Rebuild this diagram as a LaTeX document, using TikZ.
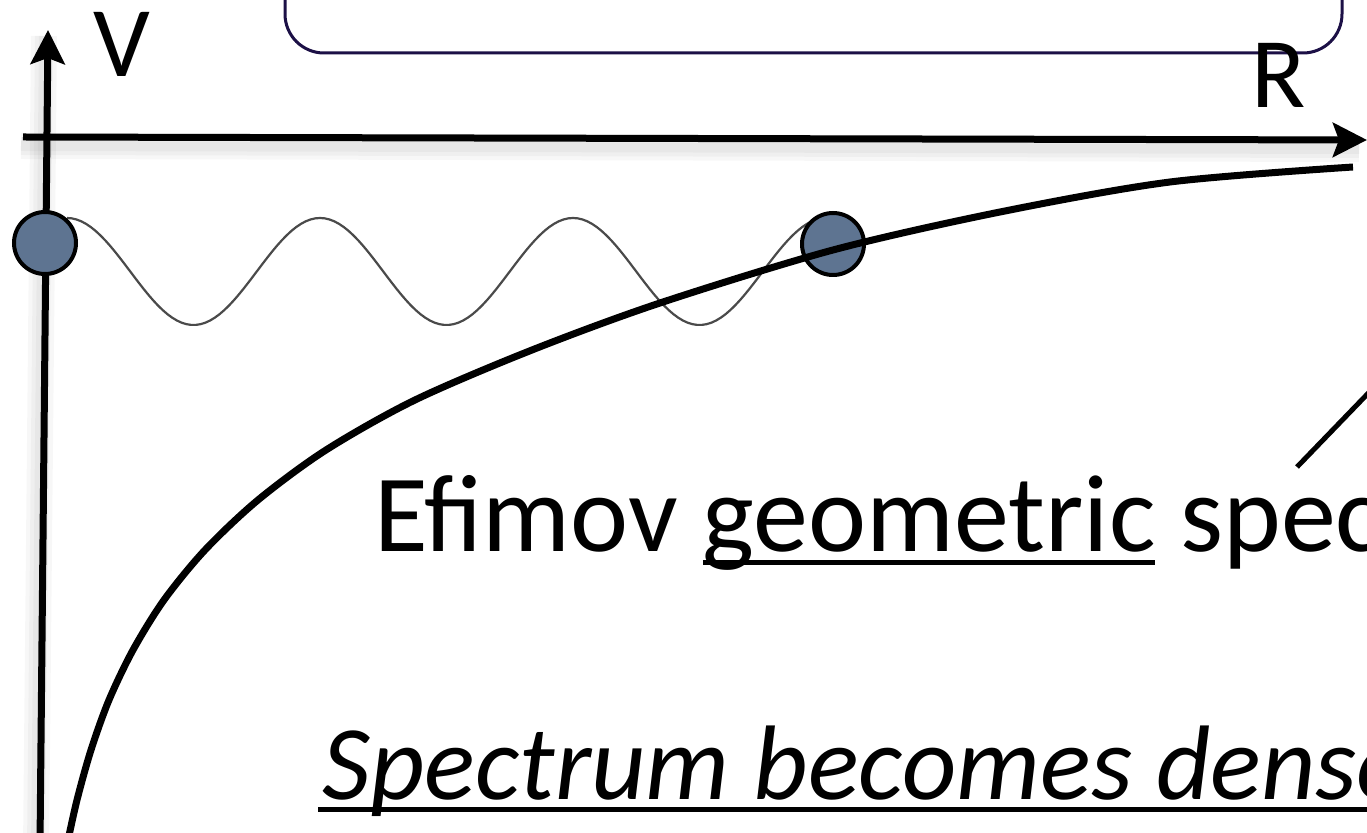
\documentclass[tikz,border=0pt]{standalone}
\usepackage{fontspec}
\setmainfont{Carlito}
\usetikzlibrary{arrows.meta}
\definecolor{frame}{HTML}{1C1046}
\definecolor{slate}{HTML}{5E7491}
\definecolor{wavec}{HTML}{4A4A4A}
\newlength{\ulw}
% underline at a fixed depth, crossing descenders like the slide does
\newcommand{\ulword}[2]{\settowidth{\ulw}{#2}\rlap{\rule[#1]{\ulw}{2.5pt}}#2}

\begin{document}
\begin{tikzpicture}[x=0.5pt,y=-0.5pt,
    axis/.style={line width=3.5pt,-{Stealth[length=17pt,width=17pt,inset=3pt]}},
    axshade/.style={line width=#1,draw=black,opacity=0.03},
    ball/.style={circle,draw=black,line width=2pt,fill=slate,minimum size=31pt,inner sep=0pt},
    wave/.style={draw=wavec,line width=1.1pt},
    potential/.style={line width=3.5pt},
    lab/.style={font=\fontsize{50}{60}\selectfont,inner sep=0pt},
    labup/.style={font=\fontsize{55}{66}\selectfont,inner sep=0pt},
    labit/.style={font=\fontsize{53}{64}\selectfont\itshape,inner sep=0pt}]
  \useasboundingbox (0,0) rectangle (1367,833);
  \fill[white] (0,0) rectangle (1367,833);

  % title frame, cut by the top edge
  \draw[frame,line width=1.5pt,rounded corners=19.5pt] (285,-80) rectangle (1342,53);

  \coordinate (vbot) at (40,845);
  \coordinate (vtop) at (48,30);
  \coordinate (hbeg) at (23,137);
  \coordinate (hend) at (1367,140);
  \foreach \w in {5,9,13} {
    \draw[axshade=\w pt] ([shift={(-4,6)}]vbot) -- ([shift={(-4,6)}]vtop);
    \draw[axshade=\w pt] ([shift={(-2,9)}]hbeg) -- ([shift={(-8,9)}]hend);
  }
  \draw[axis] (vbot) -- (vtop);
  \draw[axis] (hbeg) -- (hend);
  \node[lab,anchor=base] (vlab) at (122,77) {V};
  \node[lab,anchor=base] (rlab) at (1279,108) {R};

  \draw[wave] plot[domain=67:826,samples=160] (\x,{271.5-53.5*cos(1.42292*(\x-67))});
  \node[ball] (pL) at (45,243) {};
  \node[ball] (pR) at (833,244) {};
  \draw[potential] plot[smooth,tension=0.5] coordinates {
    (67,845) (77,800) (91,750) (109,700) (133,650) (164,600) (205,550)
    (258,500) (326,450) (415,400) (532,350) (660,303) (833,250)
    (1000,212) (1170,182) (1353,167)};

  \coordinate (ptrA) at (1297,467);
  \coordinate (ptrB) at (1380,381);
  \draw[line width=2.5pt] (ptrA) -- (ptrB);

  \node[labup,anchor=base west] (efimov) at (374,552)
    {Efimov \ulword{-6.75pt}{geometric} spec};
  \node[labit,anchor=base west] (dense) at (322,800)
    {\rlap{\kern-2pt\rule[-6.25pt]{600pt}{2.5pt}}Spectrum becomes dense};
\end{tikzpicture}
\end{document}
